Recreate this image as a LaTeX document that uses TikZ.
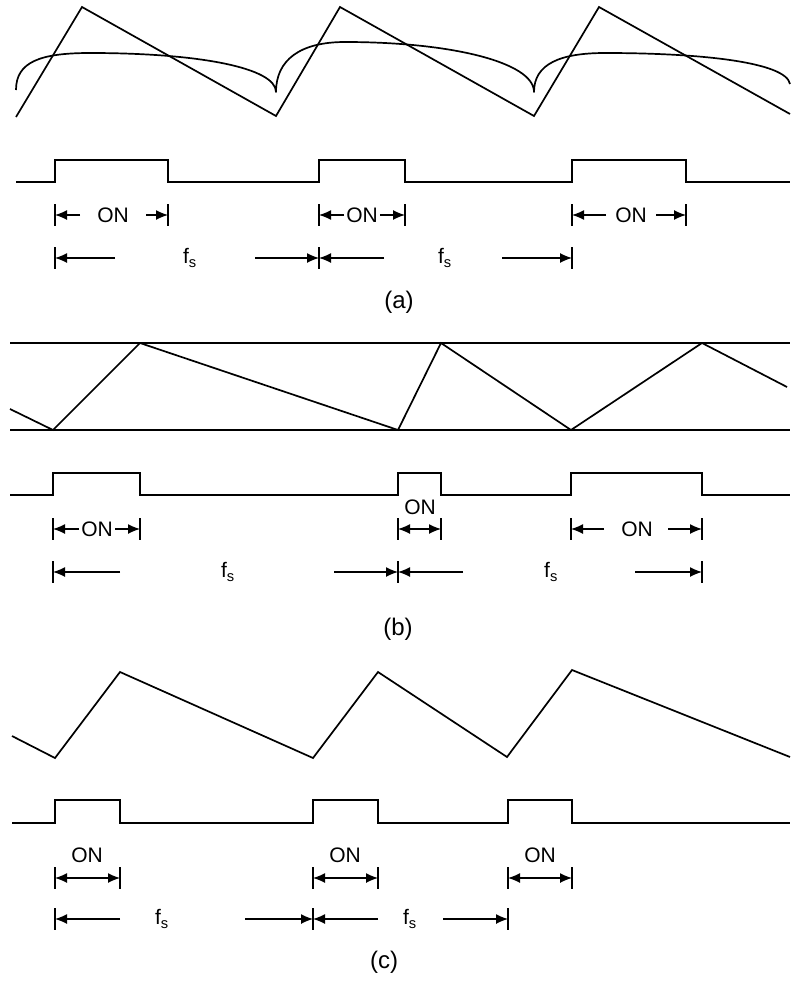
\documentclass[tikz,border=0pt]{standalone}
\usepackage{fontspec}
\setmainfont{Liberation Sans}
\usetikzlibrary{arrows.meta}
\begin{document}
\begin{tikzpicture}[x=1pt,y=-1pt]
\tikzset{
  wave/.style={line width=1.7pt},
  dimarr/.style={line width=1.3pt,-{Latex[length=12pt,width=10pt]}},
  dimboth/.style={line width=1.3pt,{Latex[length=12pt,width=10pt]}-{Latex[length=12pt,width=10pt]}},
  tickln/.style={line width=1.2pt},
  lbl/.style={font=\fontsize{21}{25}\selectfont,inner sep=0pt},
  captxt/.style={font=\fontsize{24}{28}\selectfont,inner sep=0pt}
}
\useasboundingbox (0,0) rectangle (791,982);
\draw[wave] (16,117) -- (82,7) -- (276,116) -- (340,7) -- (534,116) -- (599,7) -- (790,114);
\draw[wave,line join=round] (16,90) .. controls (16,62) and (40,53) .. (90,53) .. controls (200,53) and (276,68) .. (276,92)
  .. controls (276,60) and (300,42) .. (345,42) .. controls (450,42) and (534,62) .. (534,92)
  .. controls (534,64) and (560,53) .. (605,53) .. controls (700,53) and (786,62) .. (790,84);
\draw[wave] (16,182) -- (55,182) -- (55,160) -- (168,160) -- (168,182) -- (319,182) -- (319,160) -- (405,160) -- (405,182) -- (572,182) -- (572,160) -- (686,160) -- (686,182) -- (790,182);
\foreach \x in {55,168,319,405,572,686} \draw[tickln] (\x,204) -- (\x,226);
\node[lbl] (onA1) at (113,215) {ON};
\draw[dimarr] (80,215) -- (55,215);
\draw[dimarr] (146,215) -- (168,215);
\node[lbl] (onA2) at (362,215) {ON};
\draw[dimarr] (344,215) -- (319,215);
\draw[dimarr] (380,215) -- (405,215);
\node[lbl] (onA3) at (631,215) {ON};
\draw[dimarr] (606,215) -- (572,215);
\draw[dimarr] (656,215) -- (686,215);
\foreach \x in {55,319,572} \draw[tickln] (\x,247) -- (\x,269);
\node[lbl] (fsA1) at (190,258) {f\textsubscript{s}};
\draw[dimarr] (115,258) -- (55,258);
\draw[dimarr] (255,258) -- (319,258);
\node[lbl] (fsA2) at (445,258) {f\textsubscript{s}};
\draw[dimarr] (384,258) -- (319,258);
\draw[dimarr] (502,258) -- (572,258);
\node[captxt] (capA) at (399,302) {(a)};
\draw[wave] (10,343) -- (790,343);
\draw[wave] (10,430) -- (790,430);
\draw[wave] (10,409) -- (53,430) -- (140,343) -- (398,430) -- (441,343) -- (571,430) -- (702,343) -- (787,387);
\draw[wave] (10,495) -- (53,495) -- (53,473) -- (140,473) -- (140,495) -- (398,495) -- (398,473) -- (441,473) -- (441,495) -- (571,495) -- (571,473) -- (702,473) -- (702,495) -- (790,495);
\foreach \x in {53,140,398,441,571,702} \draw[tickln] (\x,518) -- (\x,540);
\node[lbl] (onB1) at (97,529) {ON};
\draw[dimarr] (79,529) -- (53,529);
\draw[dimarr] (115,529) -- (140,529);
\node[lbl] (onB2) at (420,507) {ON};
\draw[dimboth] (398,529) -- (441,529);
\node[lbl] (onB3) at (637,529) {ON};
\draw[dimarr] (604,529) -- (571,529);
\draw[dimarr] (668,529) -- (702,529);
\foreach \x in {53,398,702} \draw[tickln] (\x,561) -- (\x,583);
\node[lbl] (fsB1) at (228,572) {f\textsubscript{s}};
\draw[dimarr] (120,572) -- (53,572);
\draw[dimarr] (334,572) -- (398,572);
\node[lbl] (fsB2) at (551,572) {f\textsubscript{s}};
\draw[dimarr] (463,572) -- (398,572);
\draw[dimarr] (635,572) -- (702,572);
\node[captxt] (capB) at (398,629) {(b)};
\draw[wave] (12,736) -- (55,758) -- (120,672) -- (313,758) -- (378,672) -- (507,757) -- (572,670) -- (790,757);
\draw[wave] (12,823) -- (55,823) -- (55,800) -- (120,800) -- (120,823) -- (313,823) -- (313,800) -- (378,800) -- (378,823) -- (508,823) -- (508,800) -- (572,800) -- (572,823) -- (790,823);
\foreach \x in {55,120,313,378,508,572} \draw[tickln] (\x,867) -- (\x,889);
\node[lbl] (onC1) at (87,855) {ON};
\draw[dimboth] (55,878) -- (120,878);
\node[lbl] (onC2) at (345,855) {ON};
\draw[dimboth] (313,878) -- (378,878);
\node[lbl] (onC3) at (540,855) {ON};
\draw[dimboth] (508,878) -- (572,878);
\foreach \x in {55,313,508} \draw[tickln] (\x,908) -- (\x,930);
\node[lbl] (fsC1) at (162,919) {f\textsubscript{s}};
\draw[dimarr] (120,919) -- (55,919);
\draw[dimarr] (245,919) -- (313,919);
\node[lbl] (fsC2) at (410,919) {f\textsubscript{s}};
\draw[dimarr] (378,919) -- (313,919);
\draw[dimarr] (443,919) -- (508,919);
\node[captxt] (capC) at (384,962) {(c)};
\end{tikzpicture}
\end{document}
